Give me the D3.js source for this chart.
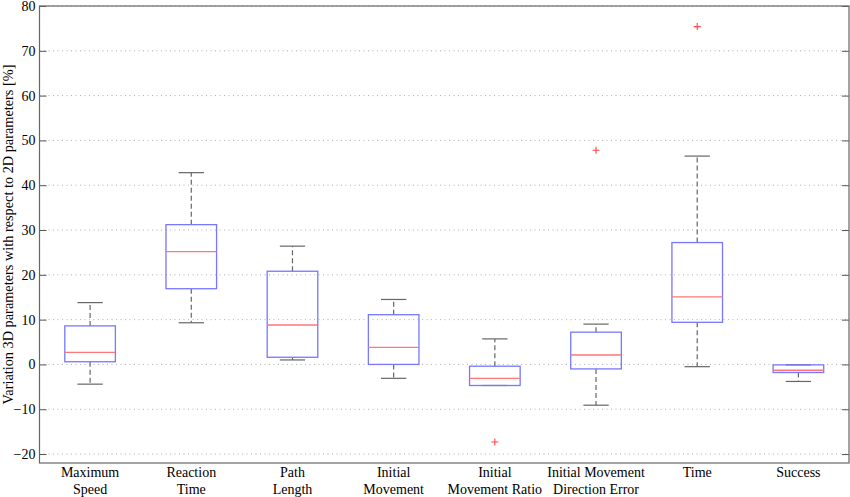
<!DOCTYPE html>
<html>
<head>
<meta charset="utf-8">
<script src="https://cdn.jsdelivr.net/npm/d3@7"></script>
<style>
  body { margin: 0; background: #fff; }
  text { font-family: "Liberation Serif", "Times New Roman", serif; }
</style>
</head>
<body>
<script>
// categories (two-line labels)
const categories = ["Maximum Speed", "Reaction Time", "Path Length", "Initial Movement",
  "Initial Movement Ratio", "Initial Movement Direction Error", "Time", "Success"];
const labelLines = [["Maximum", "Speed"], ["Reaction", "Time"], ["Path", "Length"],
  ["Initial", "Movement"], ["Initial", "Movement Ratio"], ["Initial Movement", "Direction Error"],
  ["Time"], ["Success"]];

// box statistics
const whiskerLow = [-4.4, 9.3, 1.0, -3.1, -4.7, -9.1, -0.5, -3.8];
const q1 =         [0.6, 16.9, 1.6, 0.0, -4.7, -1.0, 9.4, -1.8];
const median =     [2.7, 25.2, 8.8, 3.8, -3.1, 2.1, 15.1, -1.3];
const q3 =         [8.6, 31.2, 20.8, 11.1, -0.4, 7.2, 27.2, -0.1];
const whiskerHigh = [13.8, 42.8, 26.4, 14.5, 5.7, 9.0, 46.5, -0.1];
const outliers = [[], [], [], [], [-17.3], [47.8], [75.4], []];

const yTicks = [-20, -10, 0, 10, 20, 30, 40, 50, 60, 70, 80];
const yLabel = "Variation 3D parameters with respect to 2D parameters [%]";

const W = 850, H = 497;
const margin = { top: 6, right: 1, bottom: 34, left: 39.5 };
const width = W - margin.left - margin.right;
const height = H - margin.top - margin.bottom;

const svg = d3.select("body").append("svg")
  .attr("width", W)
  .attr("height", H);

const g = svg.append("g")
  .attr("transform", "translate(" + margin.left + "," + margin.top + ")");

const x = d3.scaleBand().domain(categories).range([0, width]);
const y = d3.scaleLinear().domain([-22, 80]).range([height, 0]);

const boxW = x.bandwidth() * 0.5;
const capW = boxW * 0.5;

// dotted grid
g.append("g")
  .selectAll("line")
  .data(yTicks)
  .join("line")
  .attr("x1", 0).attr("x2", width)
  .attr("y1", d => y(d)).attr("y2", d => y(d))
  .attr("stroke", "#b0b0b0")
  .attr("stroke-width", 1)
  .attr("stroke-dasharray", "1,3.5");

// left axis with inward ticks
const yAxis = d3.axisLeft(y).tickValues(yTicks).tickSize(-7).tickPadding(4);
const ya = g.append("g").call(yAxis);
ya.select(".domain").remove();
ya.selectAll(".tick line").attr("stroke", "#555");
ya.selectAll(".tick text")
  .attr("font-size", 14)
  .attr("fill", "#000")
  .attr("x", -4)
  .style("font-family", "Liberation Serif");

// right axis ticks
const yAxisR = d3.axisRight(y).tickValues(yTicks).tickSize(-7).tickFormat("");
const yr = g.append("g").attr("transform", "translate(" + width + ",0)").call(yAxisR);
yr.select(".domain").remove();
yr.selectAll(".tick line").attr("stroke", "#555");

// frame
g.append("rect")
  .attr("x", 0).attr("y", 0)
  .attr("width", width).attr("height", height)
  .attr("fill", "none")
  .attr("stroke", "#666")
  .attr("stroke-width", 1.2);

// category labels
const xl = g.append("g")
  .selectAll("text")
  .data(categories)
  .join("text")
  .attr("x", d => x(d) + x.bandwidth() / 2)
  .attr("y", height + 14)
  .attr("text-anchor", "middle")
  .attr("font-size", 14)
  .attr("fill", "#000");
xl.each(function (d, i) {
  d3.select(this).selectAll("tspan")
    .data(labelLines[i])
    .join("tspan")
    .attr("x", x(d) + x.bandwidth() / 2)
    .attr("dy", (t, j) => j === 0 ? 0 : 16.5)
    .text(t => t);
});

// boxes
const boxes = g.append("g")
  .selectAll("g")
  .data(categories)
  .join("g")
  .attr("transform", d => "translate(" + (x(d) + x.bandwidth() / 2) + ",0)");

// whiskers (dashed)
boxes.append("line")
  .attr("y1", (d, i) => y(q3[i])).attr("y2", (d, i) => y(whiskerHigh[i]))
  .attr("stroke", "#666").attr("stroke-width", 1.2).attr("stroke-dasharray", "5,3");
boxes.append("line")
  .attr("y1", (d, i) => y(q1[i])).attr("y2", (d, i) => y(whiskerLow[i]))
  .attr("stroke", "#666").attr("stroke-width", 1.2).attr("stroke-dasharray", "5,3");

// whisker caps
boxes.append("line")
  .attr("x1", -capW / 2).attr("x2", capW / 2)
  .attr("y1", (d, i) => y(whiskerHigh[i])).attr("y2", (d, i) => y(whiskerHigh[i]))
  .attr("stroke", "#666").attr("stroke-width", 1.2);
boxes.append("line")
  .attr("x1", -capW / 2).attr("x2", capW / 2)
  .attr("y1", (d, i) => y(whiskerLow[i])).attr("y2", (d, i) => y(whiskerLow[i]))
  .attr("stroke", "#666").attr("stroke-width", 1.2);

// box
boxes.append("rect")
  .attr("x", -boxW / 2)
  .attr("width", boxW)
  .attr("y", (d, i) => y(q3[i]))
  .attr("height", (d, i) => y(q1[i]) - y(q3[i]))
  .attr("fill", "none")
  .attr("stroke", "#7777ff")
  .attr("stroke-width", 1.3);

// median
boxes.append("line")
  .attr("x1", -boxW / 2).attr("x2", boxW / 2)
  .attr("y1", (d, i) => y(median[i])).attr("y2", (d, i) => y(median[i]))
  .attr("stroke", "#ff7777").attr("stroke-width", 1.3);

// outliers (+)
boxes.each(function (d, i) {
  d3.select(this).selectAll("path.out")
    .data(outliers[i])
    .join("path")
    .attr("class", "out")
    .attr("d", v => "M-3.5," + y(v) + "h7M0," + (y(v) - 3.5) + "v7")
    .attr("stroke", "#ff4444")
    .attr("stroke-width", 1.1)
    .attr("fill", "none");
});

// y label
svg.append("text")
  .attr("transform", "translate(12.5," + (margin.top + height / 2) + ") rotate(-90)")
  .attr("text-anchor", "middle")
  .attr("font-size", 14.3)
  .attr("fill", "#000")
  .text(yLabel);
</script>
</body>
</html>
